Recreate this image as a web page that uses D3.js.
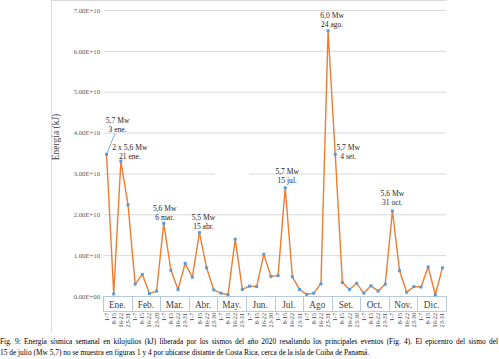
<!DOCTYPE html>
<html><head><meta charset="utf-8">
<script src="https://cdn.jsdelivr.net/npm/d3@7"></script>
<style>
body{margin:0;background:#fff;}
svg{display:block;font-family:"Liberation Serif","Times New Roman",serif;}
</style></head>
<body><svg id="c" width="499" height="359"></svg>
<script>
const months = ["Ene.","Feb.","Mar.","Abr.","May.","Jun.","Jul.","Ago","Set.","Oct.","Nov.","Dic."];
const weekLabels = [
 ["1-7","8-15","16-22","23-31"],["1-7","8-15","16-22","23-29"],["1-7","8-15","16-22","23-31"],
 ["1-7","8-15","16-22","23-30"],["1-7","8-15","16-22","23-31"],["1-7","8-15","16-22","23-30"],
 ["1-7","8-15","16-22","23-31"],["1-7","8-15","16-22","23-31"],["1-7","8-15","16-22","23-30"],
 ["1-7","8-15","16-22","23-31"],["1-7","8-15","16-22","23-30"],["1-7","8-15","16-22","23-31"]];
// energy in units of 1e10 kJ, per week
const energy = [
 3.47,0.05,3.30,2.23, 0.29,0.53,0.06,0.12, 1.78,0.63,0.16,0.80,
 0.46,1.55,0.69,0.15, 0.07,0.03,1.39,0.16, 0.24,0.23,1.02,0.48,
 0.50,2.65,0.47,0.16, 0.04,0.07,0.30,6.49, 3.47,0.33,0.16,0.31,
 0.07,0.25,0.12,0.29, 2.08,0.62,0.09,0.23, 0.22,0.71,0.03,0.69];
const yTicks = [0,1e10,2e10,3e10,4e10,5e10,6e10,7e10];
const events = [
 {i:0, l1:"5,7 Mw", l2:"3 ene."},
 {i:2, l1:"2 x 5,6 Mw", l2:"21 ene."},
 {i:8, l1:"5,6 Mw", l2:"6 mar."},
 {i:13, l1:"5,5 Mw", l2:"15 abr."},
 {i:25, l1:"5,7 Mw", l2:"15 jul."},
 {i:31, l1:"6,0 Mw", l2:"24 ago."},
 {i:32, l1:"5,7 Mw", l2:"4 set."},
 {i:40, l1:"5,6 Mw", l2:"31 oct."}];
const evOffsets = {0:[11,-31],2:[9,-11],8:[1,-12],13:[4,-13],25:[2,-14],31:[4,-13],32:[13,-4],40:[0,-15]};
const captionLines = [
 "Fig. 9: Energía sísmica semanal en kilojulios (kJ) liberada por los sismos del año 2020 resaltando los principales eventos (Fig. 4). El epicentro del sismo del",
 "15 de julio (Mw 5,7) no se muestra en figuras 1 y 4 por ubicarse distante de Costa Rica, cerca de la isla de Coiba de Panamá."];

const svg = d3.select("#c");
const L=103, R=446, T=10, B=296;
const ids = d3.range(energy.length);
const x = d3.scaleBand().domain(ids).range([L,R]);
const xm = d3.scaleBand().domain(months).range([L,R]);
const y = d3.scaleLinear().domain([0,7e10]).range([B,T]);
const data = energy.map((v,i)=>({i, v:v*1e10}));

// frame
svg.append("line").attr("x1",51.5).attr("x2",51.5).attr("y1",0).attr("y2",332).attr("stroke","#d9d9d9");
svg.append("line").attr("x1",51.5).attr("x2",447).attr("y1",0.5).attr("y2",0.5).attr("stroke","#d9d9d9");

const fmt = d => {
  if (d===0) return "0.00E+00";
  const e = Math.floor(Math.log10(d));
  return (d/Math.pow(10,e)).toFixed(2)+"E+"+String(e).padStart(2,"0");
};
const ga = svg.append("g").attr("transform",`translate(${L+1},0)`)
  .call(d3.axisLeft(y).tickValues(yTicks).tickSize(-(R-L-1)).tickPadding(4).tickFormat(fmt));
ga.select(".domain").remove();
ga.selectAll(".tick line").attr("stroke","#d9d9d9");
ga.selectAll(".tick text").attr("fill","#595959").attr("font-size","6.7px").attr("font-family","Liberation Serif");
ga.selectAll(".tick").filter(d=>d===0).select("line").remove();
svg.append("rect").attr("x",215).attr("y",y(3e10)-1.5).attr("width",34).attr("height",3).attr("fill","#fff");

svg.append("text").attr("transform",`translate(59,137) rotate(-90)`)
  .attr("text-anchor","middle").attr("font-size","9.5px").attr("fill","#404040").text("Energía (kJ)");

// category axis boxes
const axc = "#b7cbe0";
svg.append("line").attr("x1",L).attr("x2",R).attr("y1",B+0.5).attr("y2",B+0.5).attr("stroke",axc);
svg.append("line").attr("x1",L).attr("x2",R).attr("y1",311.5).attr("y2",311.5).attr("stroke",axc);
const bounds = months.map(m=>xm(m)).concat([R]);
svg.selectAll(".mdiv").data(bounds).join("line").attr("class","mdiv")
  .attr("x1",d=>Math.round(d)+0.5).attr("x2",d=>Math.round(d)+0.5).attr("y1",B).attr("y2",312).attr("stroke",axc);
svg.selectAll(".mlab").data(months).join("text").attr("class","mlab")
  .attr("x",d=>xm(d)+xm.bandwidth()/2).attr("y",307.5).attr("text-anchor","middle")
  .attr("font-size","9.3px").attr("fill","#404040").text(d=>d);

const gx = svg.append("g").attr("transform","translate(0,313)")
  .call(d3.axisBottom(x).tickSize(0).tickPadding(0).tickFormat(i=>weekLabels[Math.floor(i/4)][i%4]));
gx.select(".domain").remove();
gx.selectAll(".tick text").attr("font-size","6.2px").attr("font-family","Liberation Serif").attr("fill","#404040")
  .attr("transform","rotate(-90)").attr("text-anchor","end").attr("dy","0.33em").attr("x",0).attr("y",0);

// line
const cx = i => x(i)+x.bandwidth()/2;
svg.append("path").datum(data).attr("fill","none").attr("stroke","#ED7D31").attr("stroke-width",1.4)
  .attr("stroke-linejoin","round").attr("d",d3.line().x(d=>cx(d.i)).y(d=>y(d.v)));
svg.selectAll(".pt").data(data).join("rect").attr("class","pt")
  .attr("x",d=>cx(d.i)-1.5).attr("y",d=>y(d.v)-1.5).attr("width",3).attr("height",3).attr("fill","#5B9BD5");

// annotations
const ev = svg.append("g").attr("font-size","7.6px").attr("fill","#262626").attr("text-anchor","middle");
events.forEach(e=>{
  const px = cx(e.i), py = y(energy[e.i]*1e10);
  const [dx,dy] = evOffsets[e.i];
  ev.append("text").attr("x",px+dx).attr("y",py+dy).text(e.l1);
  ev.append("text").attr("x",px+dx).attr("y",py+dy+9).text(e.l2);
});
svg.append("line").attr("x1",cx(0)).attr("y1",y(energy[0]*1e10)).attr("x2",cx(0)+8.5).attr("y2",y(energy[0]*1e10)-21)
  .attr("stroke","#5B9BD5").attr("stroke-width",0.8);

// caption: first line justified to full width
const fs = 7.4;
const cap = svg.append("g").attr("fill","#000").attr("font-size",fs+"px");
cap.append("text").attr("x",0).attr("y",355).text(captionLines[1]);
const t1 = cap.append("text").attr("x",0).attr("y",344).text(captionLines[0]);
const nat = t1.node().getComputedTextLength();
const nsp = captionLines[0].split(" ").length-1;
if (nat < 498) t1.attr("word-spacing",((498-nat)/nsp)+"px");
else t1.attr("textLength",498).attr("lengthAdjust","spacingAndGlyphs");
</script></body></html>
